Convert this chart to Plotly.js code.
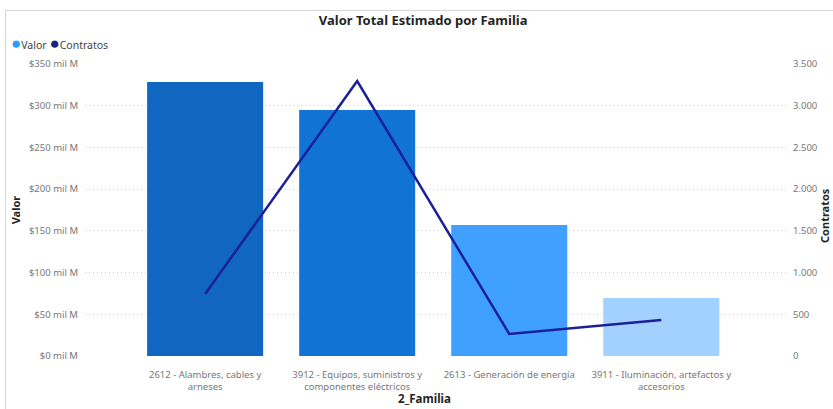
<!DOCTYPE html>
<html>
<head>
<meta charset="utf-8">
<script src="https://cdn.plot.ly/plotly-3.0.1.min.js"></script>
<style>
html,body{margin:0;padding:0;background:#fff;overflow:hidden;}
#frame{position:absolute;left:5px;top:10px;width:900px;height:500px;border:1px solid #d6d6d6;box-sizing:border-box;pointer-events:none;z-index:5;}
#chart{position:absolute;left:0;top:0;width:833px;height:409px;}
</style>
</head>
<body>
<div id="chart"></div>
<div id="frame"></div>
<script>
// Data
const categories = [
  "2612 - Alambres, cables y<br>arneses",
  "3912 - Equipos, suministros y<br>componentes eléctricos",
  "2613 - Generación de energía",
  "3911 - Iluminación, artefactos y<br>accesorios"
];
const valorMilM = [328.5, 295, 157, 69.5];
const contratos = [743, 3296, 264, 431];
const barColors = ["#1167BF", "#1173D4", "#40A0FF", "#A3D1FF"];
const leftTickVals = [0, 50, 100, 150, 200, 250, 300, 350];
const leftTickText = ["$0 mil M","$50 mil M","$100 mil M","$150 mil M","$200 mil M","$250 mil M","$300 mil M","$350 mil M"];
const rightTickVals = [0, 500, 1000, 1500, 2000, 2500, 3000, 3500];
const rightTickText = ["0","500","1.000","1.500","2.000","2.500","3.000","3.500"];
const legendNames = ["Valor", "Contratos"];
const legendColors = ["#2A9BFF", "#1A237E"];
const xTitle = "2_Familia";
const y2Title = "Contratos";

const FONT = "'Noto Sans', 'Open Sans', sans-serif";

const traces = [
  {
    type: "bar", x: categories, y: valorMilM, name: legendNames[0],
    marker: {color: barColors}, width: 0.763, showlegend: false,
    yaxis: "y", hoverinfo: "skip"
  },
  {
    type: "scatter", mode: "lines", x: categories, y: contratos, name: legendNames[1],
    line: {color: "#1B1F9A", width: 2.5}, showlegend: false,
    yaxis: "y2", hoverinfo: "skip"
  }
];

const legendText = legendNames.map((n, i) =>
  "<span style='color:" + legendColors[i] + ";font-size:17px'>●</span>" + n).join(" ");

const layout = {
  width: 833, height: 409,
  margin: {l: 85, r: 47, t: 64, b: 53, autoexpand: false},
  paper_bgcolor: "#fff", plot_bgcolor: "#fff",
  font: {family: FONT, color: "#777", size: 9},
  title: {text: "<b>Valor Total Estimado por Familia</b>", x: 0.508, xanchor: "center", y: 0.951, yanchor: "middle",
          font: {family: FONT, size: 13, color: "#252423"}},
  showlegend: false,
  annotations: [
    {
      text: legendText, xref: "paper", yref: "paper", x: -0.109, y: 1.073,
      xanchor: "left", yanchor: "middle", showarrow: false,
      font: {family: FONT, size: 10.5, color: "#444"}
    },
    {
      text: "<b>" + xTitle + "</b>", xref: "paper", yref: "paper", x: 0.4836, y: -0.144,
      xanchor: "center", yanchor: "middle", showarrow: false,
      font: {family: FONT, size: 11.5, color: "#252423"}
    },
    {
      text: "<b>" + y2Title + "</b>", xref: "paper", yref: "paper", x: 1.0556, y: 0.483,
      xanchor: "center", yanchor: "middle", showarrow: false, textangle: -90,
      font: {family: FONT, size: 11, color: "#252423"}
    }
  ],
  bargap: 0.237,
  xaxis: {
    type: "category", range: [-0.79, 3.82], fixedrange: true,
    showgrid: false, zeroline: false, showline: false, ticks: "",
    ticklabelstandoff: 11,
    tickfont: {family: FONT, size: 9.5, color: "#777"},
    automargin: false
  },
  yaxis: {
    range: [0, 350], tickvals: leftTickVals, ticktext: leftTickText,
    showgrid: true, gridcolor: "#cfcfcf", griddash: "1px,3px", gridwidth: 1,
    zeroline: false, showline: false, ticks: "", ticklabelstandoff: 6,
    tickfont: {family: FONT, size: 9.5, color: "#777"},
    title: {text: "<b>Valor</b>", standoff: 6, font: {family: FONT, size: 11, color: "#252423"}},
    automargin: false
  },
  yaxis2: {
    overlaying: "y", side: "right", range: [0, 3500],
    tickvals: rightTickVals, ticktext: rightTickText,
    showgrid: false, zeroline: false, showline: false, ticks: "", ticklabelstandoff: 6,
    tickfont: {family: FONT, size: 9.5, color: "#777"},
    automargin: false
  }
};

Plotly.newPlot("chart", traces, layout, {staticPlot: true, displayModeBar: false});
</script>
</body>
</html>
